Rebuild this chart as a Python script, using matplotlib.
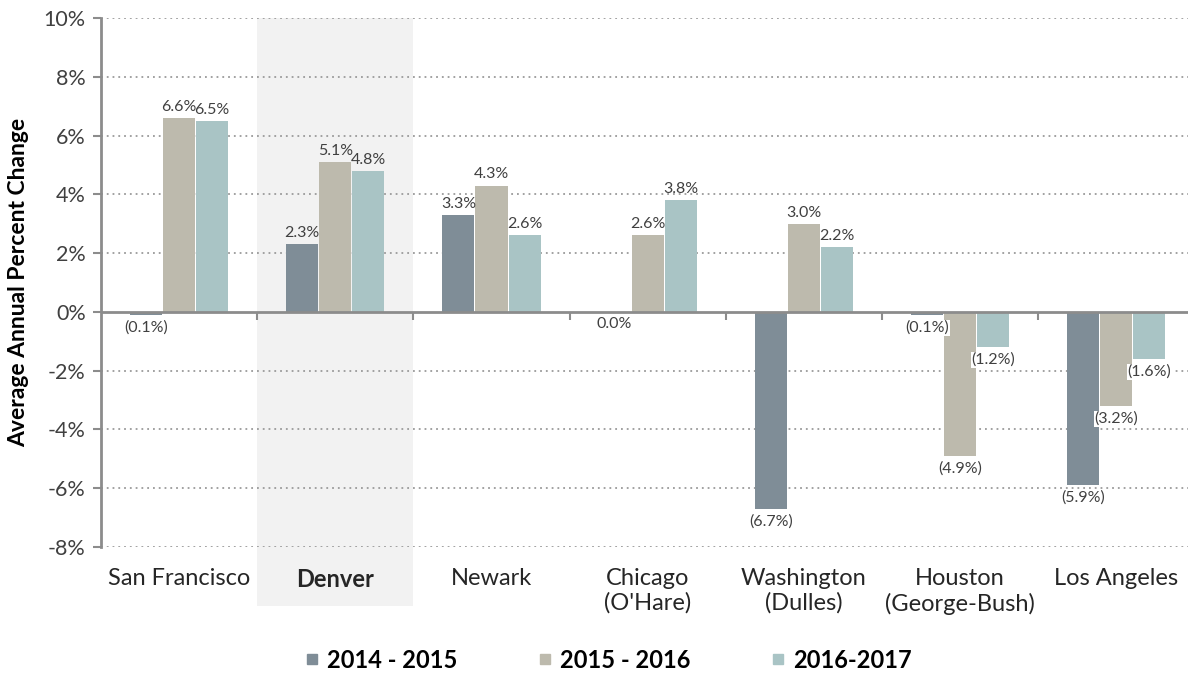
import matplotlib
matplotlib.use("Agg")
import matplotlib.pyplot as plt
import numpy as np
from matplotlib.patches import Rectangle
from matplotlib.lines import Line2D

categories = ["San Francisco", "Denver", "Newark", "Chicago\n(O'Hare)",
              "Washington\n(Dulles)", "Houston\n(George-Bush)", "Los Angeles"]
series_names = ["2014 - 2015", "2015 - 2016", "2016-2017"]
v_2014_2015 = [-0.1, 2.3, 3.3, 0.0, -6.7, -0.1, -5.9]
v_2015_2016 = [6.6, 5.1, 4.3, 2.6, 3.0, -4.9, -3.2]
v_2016_2017 = [6.5, 4.8, 2.6, 3.8, 2.2, -1.2, -1.6]
y_ticks = [-8, -6, -4, -2, 0, 2, 4, 6, 8, 10]
highlight = "Denver"

colors = ["#7f8d97", "#bdbaad", "#a9c4c5"]
text_col = "#404040"
axis_col = "#8c8c8c"

plt.rcParams['font.family'] = ['Lato', 'DejaVu Sans']

fig = plt.figure(figsize=(11.88, 6.73), dpi=100)
W, H = 1188, 673
left, right, top, bottom = 101, 1188, 18, 547
ax = fig.add_axes([left / W, 1 - bottom / H, (right - left) / W, (bottom - top) / H])

step_px = 156.2
ncat = len(categories)
xmax = -0.5 + (right - left) / step_px
ax.set_xlim(-0.5, xmax)
ax.set_ylim(-8, 10)

x = np.arange(ncat)
width = 0.205
offs = [-0.212, 0.0, 0.212]
series = [v_2014_2015, v_2015_2016, v_2016_2017]

# highlight band
hi = categories.index(highlight)
ax.add_patch(Rectangle((hi - 0.5, -10), 1.0, 20, facecolor="#f2f2f2",
                       edgecolor="none", zorder=0, clip_on=False))

# gridlines
for yv in y_ticks:
    if yv == 0:
        continue
    ax.axhline(yv, color="#9a9a9a", linestyle=(0, (1, 2.2)), linewidth=1.3, zorder=1)

for vals, off, col in zip(series, offs, colors):
    ax.bar(x + off, vals, width=width, color=col, zorder=3)
    for xi, v in zip(x + off, vals):
        if v > 0:
            lab = f"{v:.1f}%"
            ax.annotate(lab, (xi, v), xytext=(0, 3), textcoords="offset points",
                        ha="center", va="bottom", fontsize=11.5, color=text_col, zorder=5)
        else:
            lab = f"({abs(v):.1f}%)" if v < 0 else f"{v:.1f}%"
            ax.annotate(lab, (xi, v), xytext=(0, -4), textcoords="offset points",
                        ha="center", va="top", fontsize=11.5, color=text_col, zorder=5,
                        bbox=dict(boxstyle="square,pad=0.05", fc="white", ec="none"))

# zero line with boundary ticks
ax.axhline(0, color=axis_col, linewidth=2, zorder=4)
sec = ax.secondary_xaxis(8 / 18)
sec.spines['bottom'].set_visible(False)
sec.set_xticks(np.arange(ncat - 1) + 0.5)
sec.tick_params(axis='x', length=6, width=1.5, color=axis_col, labelbottom=False, direction='out')

# spines
for s in ["top", "right", "bottom"]:
    ax.spines[s].set_visible(False)
ax.spines["left"].set_color(axis_col)
ax.spines["left"].set_linewidth(2)

ax.set_yticks(y_ticks)
ax.set_yticklabels([f"{t}%" for t in y_ticks], fontsize=15.5, color=text_col)
ax.tick_params(axis='y', length=6, width=1.5, color=axis_col, pad=5)

ax.set_xticks(x)
ax.set_xticklabels(categories, fontsize=17, color="#262626", linespacing=1.2)
ax.tick_params(axis='x', length=0, pad=15)
for lbl, c in zip(ax.get_xticklabels(), categories):
    if c == highlight:
        lbl.set_fontweight("bold")
    lbl.set_verticalalignment("top")

ylab = ax.set_ylabel("Average Annual Percent Change", fontsize=16.5, fontweight="bold",
                     color="black", va="center")
ax.yaxis.set_label_coords(-(left - 19) / (right - left), 0.5)

handles = [Line2D([0], [0], marker='s', linestyle='none', markersize=7.5,
                  markerfacecolor=c, markeredgecolor=c) for c in colors]
leg = fig.legend(handles, series_names, loc="center", bbox_to_anchor=(607 / W, 1 - 660 / H),
                 ncol=3, frameon=False, fontsize=17, handletextpad=0.25,
                 columnspacing=3.3, handlelength=0.8)
for t in leg.get_texts():
    t.set_fontweight("bold")

fig.savefig("out.png", dpi=100)
